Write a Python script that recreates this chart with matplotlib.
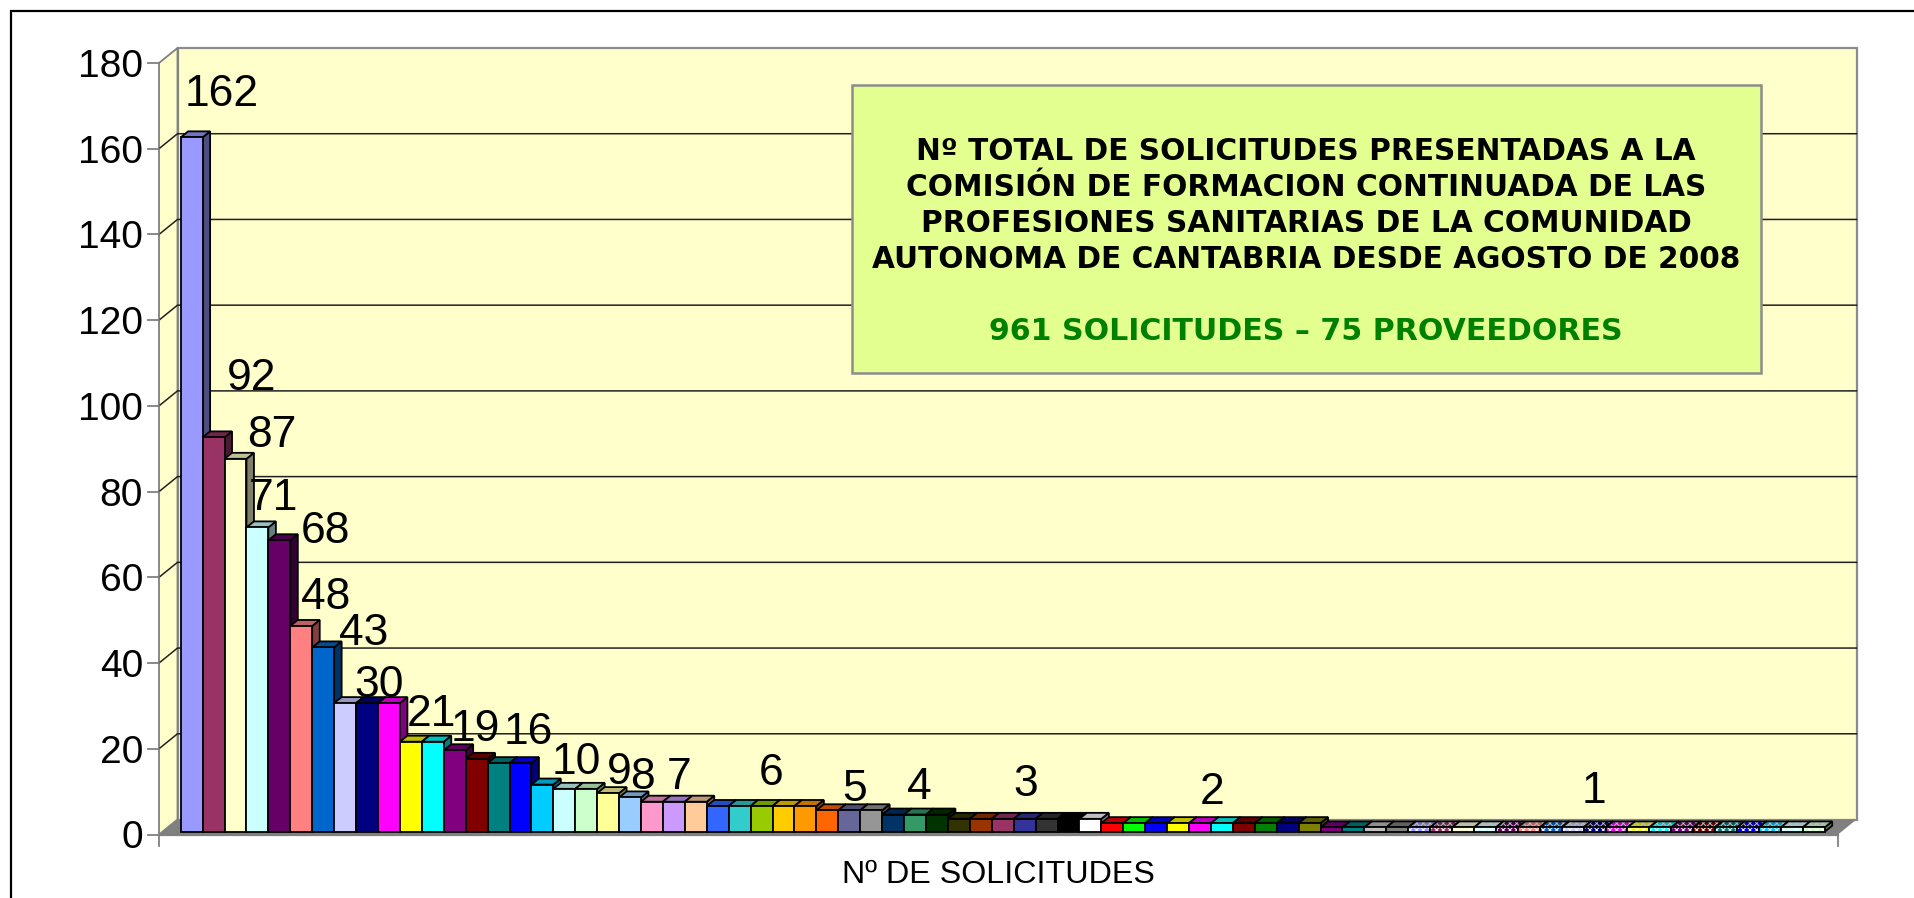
import matplotlib
matplotlib.use("Agg")
import matplotlib.pyplot as plt
from matplotlib.lines import Line2D
from matplotlib.patches import Polygon, Rectangle
from matplotlib.colors import to_rgb

# datos
valores = [162, 92, 87, 71, 68, 48, 43, 30, 30, 30, 21, 21, 19, 17, 16, 16, 11, 10, 10, 9, 8, 7, 7, 7,
           6, 6, 6, 6, 6, 5, 5, 5, 4, 4, 4, 3, 3, 3, 3, 3, 3, 3,
           2, 2, 2, 2, 2, 2, 2, 2, 2, 2,
           1, 1, 1, 1, 1, 1, 1, 1, 1, 1, 1, 1, 1, 1, 1, 1, 1, 1, 1, 1, 1, 1, 1]
y_ticks = [0, 20, 40, 60, 80, 100, 120, 140, 160, 180]
x_label = "Nº DE SOLICITUDES"
titulo = ["Nº TOTAL DE SOLICITUDES PRESENTADAS A LA",
          "COMISIÓN DE FORMACION CONTINUADA DE LAS",
          "PROFESIONES SANITARIAS DE LA COMUNIDAD",
          "AUTONOMA DE CANTABRIA DESDE AGOSTO DE 2008"]
subtitulo = "961 SOLICITUDES – 75 PROVEEDORES"

# paleta de excel, a partir del color 57 se repite con trama
paleta = ["#9999FF", "#993366", "#FFFFCC", "#CCFFFF", "#660066", "#FF8080", "#0066CC", "#CCCCFF",
          "#000080", "#FF00FF", "#FFFF00", "#00FFFF", "#800080", "#800000", "#008080", "#0000FF",
          "#00CCFF", "#CCFFFF", "#CCFFCC", "#FFFF99", "#99CCFF", "#FF99CC", "#CC99FF", "#FFCC99",
          "#3366FF", "#33CCCC", "#99CC00", "#FFCC00", "#FF9900", "#FF6600", "#666699", "#969696",
          "#003366", "#339966", "#003300", "#333300", "#993300", "#993366", "#333399", "#333333",
          "#000000", "#FFFFFF", "#FF0000", "#00FF00", "#0000FF", "#FFFF00", "#FF00FF", "#00FFFF",
          "#800000", "#008000", "#000080", "#808000", "#800080", "#008080", "#C0C0C0", "#808080"]

# etiqueta, barra, desplazamiento x (barras), desplazamiento y (unidades)
etiquetas = [(162, 0, 1.89, 10.7), (92, 1, 2.22, 14.3), (87, 2, 2.17, 6.2), (71, 3, 1.23, 7.4),
             (68, 4, 2.61, 2.6), (48, 5, 1.61, 7.3), (43, 6, 2.33, 4.0), (30, 8, 1.05, 4.8),
             (21, 10, 1.45, 7.0), (19, 12, 1.45, 5.5), (16, 14, 1.85, 7.7), (10, 17, 1.05, 6.8),
             (9, 19, 1.0, 5.5), (8, 20, 1.05, 5.4), (7, 22, 0.75, 6.4), (6, 26, 0.95, 8.2),
             (5, 30, 0.75, 5.4), (4, 33, 0.7, 6.9), (3, 38, 0.55, 8.7), (2, 47, 0.05, 7.7),
             (1, 64, 0.45, 9.0)]

W, H = 1914, 898
plt.rcParams['hatch.linewidth'] = 0.7
fig = plt.figure(figsize=(W / 100, H / 100), dpi=100, facecolor="white")
fuente = "Liberation Sans"

# frame exterior, solo se ve arriba y a la izquierda
fig.add_artist(Line2D([10.5 / W, 10.5 / W, 1], [0, 1 - 10.5 / H, 1 - 10.5 / H], transform=fig.transFigure,
                      color="black", lw=1.6, solid_joinstyle="miter"))

# plano frontal en pixeles
x0, x1, y0, y1 = 159, 1838, 834.5, 63
ax = fig.add_axes([x0 / W, 1 - y0 / H, (x1 - x0) / W, (y0 - y1) / H])
barra_px = 21.92
px_y = (y0 - y1) / 180
inicio = (180.7 - x0) / barra_px
ax.set_xlim(-inicio, (x1 - x0) / barra_px - inicio)
ax.set_ylim(0, 180)
ax.axis("off")
xmin, xmax = ax.get_xlim()

# profundidad de paredes y barras
pared_dx, pared_dy = 18.5 / barra_px, 15 / px_y
barra_dx, barra_dy = 7.5 / barra_px, 6 / px_y
base = 2.8 / px_y


def poly(puntos, fc, ec="none", lw=0.0, z=1.0, hatch=None):
    ax.add_patch(Polygon(puntos, closed=True, fc=fc, ec=ec, lw=lw, zorder=z, clip_on=False,
                         joinstyle="miter", hatch=hatch))


gris = "#808080"
amarillo = "#FFFFCC"
# pared del fondo y lateral
poly([(xmin + pared_dx, pared_dy), (xmax + pared_dx, pared_dy), (xmax + pared_dx, 180 + pared_dy),
      (xmin + pared_dx, 180 + pared_dy)], amarillo, "#8C8C8C", 1.6)
poly([(xmin, 0), (xmin + pared_dx, pared_dy), (xmin + pared_dx, 180 + pared_dy), (xmin, 180)], amarillo, gris, 1.3, z=1.2)

# suelo
poly([(xmin, 0), (xmax, 0), (xmax + pared_dx, pared_dy), (xmin + pared_dx, pared_dy)], gris, z=1.5)

# rejilla
for t in y_ticks[1:-1]:
    ax.plot([xmin, xmin + pared_dx, xmax + pared_dx], [t, t + pared_dy, t + pared_dy], color="#202020", lw=1.1,
            zorder=1.3, clip_on=False, solid_joinstyle="miter")

# marcas de los ejes
for t in y_ticks:
    ax.plot([xmin - 11 / barra_px, xmin], [t, t], color=gris, lw=1.3, clip_on=False, zorder=2)
    ax.text(xmin - 16 / barra_px, t, str(t), ha="right", va="center_baseline", fontsize=28, family=fuente, color="black")
ax.plot([xmin, xmin], [0, -11 / px_y], color=gris, lw=1.3, clip_on=False, zorder=2)
ax.plot([xmax, xmax], [0, -11 / px_y], color=gris, lw=1.3, clip_on=False, zorder=2)
ax.plot([xmin, xmax], [0, 0], color=gris, lw=1.6, clip_on=False, zorder=2)

# barras, de izquierda a derecha para que la cara frontal tape el lateral anterior
for i, v in enumerate(valores):
    n = len(paleta)
    rgb = to_rgb(paleta[i % n])
    trama = i >= n
    lado = tuple(c * 0.5 for c in rgb)
    arriba = tuple(c * 0.75 for c in rgb)
    z = 3 + i * 0.001
    l, r = i, i + 1
    b, t = base, base + v
    poly([(r, b), (r + barra_dx, b + barra_dy), (r + barra_dx, t + barra_dy), (r, t)], lado, "black", 1.3, z)
    sup = [(l, t), (r, t), (r + barra_dx, t + barra_dy), (l + barra_dx, t + barra_dy)]
    if trama:
        poly(sup, arriba, (0.75, 0.75, 0.75), 0, z, hatch="xxxxx")
        poly(sup, "none", "black", 1.3, z)
        ax.add_patch(Rectangle((l, b), 1, v, fc=rgb, ec="white", lw=0, hatch="xxxxx", zorder=z, clip_on=False))
        ax.add_patch(Rectangle((l, b), 1, v, fc="none", ec="black", lw=1.3, zorder=z, clip_on=False))
    else:
        poly(sup, arriba, "black", 1.3, z)
        ax.add_patch(Rectangle((l, b), 1, v, fc=rgb, ec="black", lw=1.3, zorder=z, clip_on=False))

# etiquetas de valor
for valor, barra, dx, dy in etiquetas:
    ax.text(barra + dx, valores[barra] + dy, str(valor), ha="center", va="center", fontsize=32, family=fuente,
            color="black", zorder=6)

# titulo eje x
fig.text(998 / W, 1 - 875 / H, x_label, ha="center", va="center", fontsize=23.2, family=fuente, color="black")

# cuadro de texto
fig.add_artist(Rectangle((852 / W, 1 - 373 / H), (1761 - 852) / W, (373 - 85) / H, transform=fig.transFigure,
                         fc="#E2FF90", ec="#8C8C8C", lw=1.8, zorder=7))
for j, linea in enumerate(titulo):
    fig.text(1306 / W, 1 - (151.5 + j * 36) / H, linea, ha="center", va="center", fontsize=21.3, family="DejaVu Sans",
             fontweight="bold", color="black", zorder=8)
fig.text(1306 / W, 1 - 331 / H, subtitulo, ha="center", va="center", fontsize=21.6, family="DejaVu Sans",
         fontweight="bold", color="#008000", zorder=8)

fig.savefig("out.png", dpi=100, facecolor="white")
